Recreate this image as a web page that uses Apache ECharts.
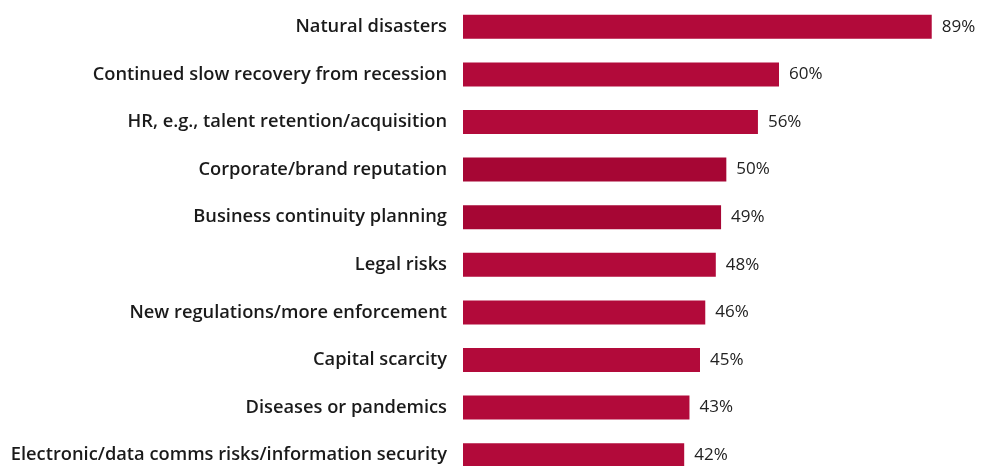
<!DOCTYPE html>
<html>
<head>
<meta charset="utf-8">
<script src="https://cdn.jsdelivr.net/npm/echarts@6/dist/echarts.min.js"></script>
<style>
  html, body { margin: 0; padding: 0; background: #fff; }
  #chart { width: 982px; height: 466px; }
</style>
</head>
<body>
<div id="chart"></div>
<script>
// Risk areas, listed top to bottom
const categories = [
  'Natural disasters',
  'Continued slow recovery from recession',
  'HR, e.g., talent retention/acquisition',
  'Corporate/brand reputation',
  'Business continuity planning',
  'Legal risks',
  'New regulations/more enforcement',
  'Capital scarcity',
  'Diseases or pandemics',
  'Electronic/data comms risks/information security'
];
// Share of respondents, percent
const values = [89, 60, 56, 50, 49, 48, 46, 45, 43, 42];
// Two of the bars are drawn in a deeper shade
const barColors = ['#b20a3a', '#b20a3a', '#b20a3a', '#a60634', '#a60634',
                   '#b20a3a', '#b20a3a', '#b20a3a', '#b20a3a', '#b20a3a'];

const chart = echarts.init(document.getElementById('chart'), null, { renderer: 'canvas' });

chart.setOption({
  animation: false,
  grid: {
    left: 463, top: 3, right: 45, bottom: -13,
    containLabel: false,
    outerBoundsMode: 'none'
  },
  xAxis: {
    type: 'value', min: 0, max: 90,
    show: false
  },
  yAxis: {
    type: 'category',
    data: categories,
    inverse: true,
    axisLine: { show: false },
    axisTick: { show: false },
    axisLabel: {
      margin: 16,
      color: '#1a1a1a',
      fontFamily: 'Open Sans',
      fontWeight: 600,
      fontSize: 18.3
    }
  },
  series: [{
    type: 'bar',
    data: values.map((v, i) => ({ value: v, itemStyle: { color: barColors[i] } })),
    barWidth: 24,
    label: {
      show: true,
      position: 'right',
      distance: 10,
      formatter: p => p.value + '%',
      color: '#222',
      fontFamily: 'Open Sans',
      fontSize: 17
    }
  }]
});
</script>
</body>
</html>
